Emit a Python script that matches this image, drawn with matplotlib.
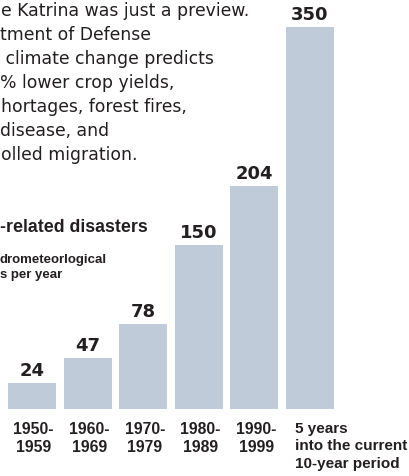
import numpy as np
import matplotlib.pyplot as plt
from matplotlib.transforms import blended_transform_factory

periods = ['1950-\n1959', '1960-\n1969', '1970-\n1979', '1980-\n1989', '1990-\n1999',
           '5 years\ninto the current\n10-year period']
disasters = [24, 47, 78, 150, 204, 350]

body_lines = ['e Katrina was just a preview.',
              'tment of Defense',
              ' climate change predicts',
              '% lower crop yields,',
              'hortages, forest fires,',
              'disease, and',
              'olled migration.']
title = '-related disasters'
subtitle = 'drometeorlogical\ns per year'

ink = '#231f20'
bar_col = '#bfcbd8'
W, H = 409, 477

fig = plt.figure(figsize=(W / 100, H / 100), dpi=100)
ax = fig.add_axes([0, 0, 1, 1])
ax.axis('off')

x = np.arange(len(disasters))
ax.bar(x, disasters, width=0.863, color=bar_col)
ax.set_xlim(-0.5755, -0.5755 + W / 55.6)
ax.set_ylim(-67 / 1.092, (H - 67) / 1.092)

for xi, v in zip(x, disasters):
    ax.annotate(str(v), (xi, v), xytext=(0, 3), textcoords='offset points',
                ha='center', va='bottom', fontsize=13, fontweight='bold',
                color=ink, family='DejaVu Sans')

# period labels under the bars
tr = blended_transform_factory(ax.transData, fig.transFigure)
for xi, lab in zip(x[:-1], periods[:-1]):
    ax.text(xi + 0.03, 1 - 422 / H, lab, transform=tr, ha='center', va='top',
            fontsize=11.3, fontweight='bold', color=ink, family='Liberation Sans',
            linespacing=1.28)
ax.text(x[-1] - 0.27, 1 - 422 / H, periods[-1], transform=tr, ha='left', va='top',
        fontsize=11, fontweight='bold', color=ink, family='Liberation Sans',
        linespacing=1.3)

# text block top left (cut off by the crop in the original)
starts = [1, 0, 0, 0, 1, 0, 1]
for i, (line, sx) in enumerate(zip(body_lines, starts)):
    fig.text(sx / W, 1 - (16 + 24 * i) / H, line, ha='left', va='baseline',
             fontsize=12.4, color=ink, family='DejaVu Sans')

fig.text(0, 1 - 232 / H, title, ha='left', va='baseline', fontsize=12.8,
         fontweight='bold', color=ink, family='Liberation Sans')
fig.text(0, 1 - 254 / H, subtitle, ha='left', va='top', fontsize=9.5,
         fontweight='bold', color=ink, family='Liberation Sans', linespacing=1.3)

fig.savefig('out.png', dpi=100)
